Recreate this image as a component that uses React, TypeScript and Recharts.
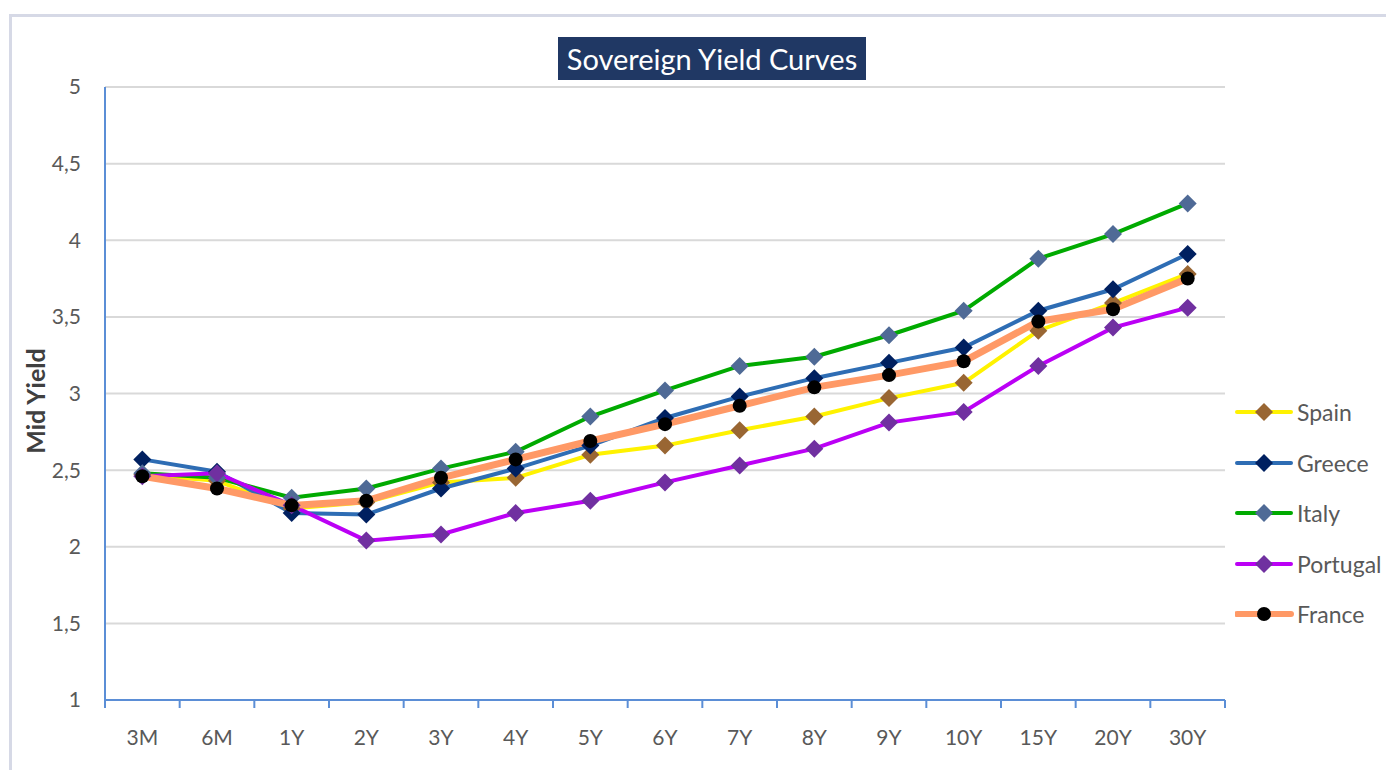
import React from "react";
import { LineChart, Line, XAxis, YAxis, CartesianGrid } from "recharts";

const tenors = ["3M", "6M", "1Y", "2Y", "3Y", "4Y", "5Y", "6Y", "7Y", "8Y", "9Y", "10Y", "15Y", "20Y", "30Y"];
const spain = [2.47, 2.43, 2.25, 2.29, 2.42, 2.45, 2.6, 2.66, 2.76, 2.85, 2.97, 3.07, 3.41, 3.59, 3.78];
const greece = [2.57, 2.49, 2.22, 2.21, 2.38, 2.51, 2.66, 2.84, 2.98, 3.1, 3.2, 3.3, 3.54, 3.68, 3.91];
const italy = [2.48, 2.45, 2.32, 2.38, 2.51, 2.62, 2.85, 3.02, 3.18, 3.24, 3.38, 3.54, 3.88, 4.04, 4.24];
const portugal = [2.46, 2.48, 2.27, 2.04, 2.08, 2.22, 2.3, 2.42, 2.53, 2.64, 2.81, 2.88, 3.18, 3.43, 3.56];
const france = [2.46, 2.38, 2.27, 2.3, 2.45, 2.57, 2.69, 2.8, 2.92, 3.04, 3.12, 3.21, 3.47, 3.55, 3.75];
const yTicks = [1, 1.5, 2, 2.5, 3, 3.5, 4, 4.5, 5];

const data = tenors.map((t, i) => ({
  tenor: t,
  Spain: spain[i],
  Greece: greece[i],
  Italy: italy[i],
  Portugal: portugal[i],
  France: france[i],
}));

const series = [
  { key: "Spain", line: "#FFF200", mark: "#996633", width: 4, shape: "diamond" },
  { key: "Greece", line: "#2E6DB4", mark: "#002060", width: 4, shape: "diamond" },
  { key: "Italy", line: "#00AA00", mark: "#4F6A96", width: 4, shape: "diamond" },
  { key: "Portugal", line: "#BB00F5", mark: "#7030A0", width: 4, shape: "diamond" },
  { key: "France", line: "#FF9966", mark: "#000000", width: 7, shape: "circle" },
];

const FONT = "Lato, 'Open Sans', sans-serif";
const AXIS = "#5B8ED6";
const TEXT = "#595959";
const BW = 1120 / 15; // band width of the category axis

const makeDot = (fill: string, shape: string) => (props: any) => {
  const { cx, cy, index } = props;
  if (cx == null || cy == null) return <g key={index} />;
  if (shape === "circle") return <circle key={index} cx={cx} cy={cy} r={7} fill={fill} />;
  const r = 9;
  return (
    <polygon
      key={index}
      points={`${cx},${cy - r} ${cx + r},${cy} ${cx},${cy + r} ${cx - r},${cy}`}
      fill={fill}
    />
  );
};

function XTick(props: any) {
  const { x, y, payload, index } = props;
  return (
    <g>
      <line x1={x - BW / 2} x2={x - BW / 2} y1={y} y2={y + 8} stroke={AXIS} strokeWidth={2} />
      {index === tenors.length - 1 && (
        <line x1={x + BW / 2} x2={x + BW / 2} y1={y} y2={y + 8} stroke={AXIS} strokeWidth={2} />
      )}
      <text x={x} y={y + 45} textAnchor="middle" fill={TEXT} fontSize={21} fontFamily={FONT}>
        {payload.value}
      </text>
    </g>
  );
}

function LegendBox() {
  return (
    <div style={{ position: "absolute", left: 1235, top: 387, fontFamily: FONT }}>
      {series.map((s) => (
        <div key={s.key} style={{ display: "flex", alignItems: "center", height: 50.5 }}>
          <svg width={60} height={22}>
            <line x1={2} x2={56} y1={11} y2={11} stroke={s.line} strokeWidth={s.width === 7 ? 6 : 4} strokeLinecap="round" />
            {s.shape === "circle" ? (
              <circle cx={29} cy={11} r={7} fill={s.mark} />
            ) : (
              <polygon points="29,2 38,11 29,20 20,11" fill={s.mark} />
            )}
          </svg>
          <span style={{ fontSize: 23, color: TEXT, marginLeft: 2, whiteSpace: "nowrap" }}>{s.key}</span>
        </div>
      ))}
    </div>
  );
}

export default function App() {
  return (
    <div
      style={{
        position: "absolute",
        left: 0,
        top: 0,
        width: 1386,
        height: 770,
        overflow: "hidden",
        background: "#fff",
      }}
    >
      <div
        style={{
          position: "absolute",
          left: 9,
          top: 14,
          width: 1500,
          height: 900,
          border: "3px solid #D6D9E6",
        }}
      />
      <LineChart
        width={1386}
        height={770}
        data={data}
        margin={{ top: 87, right: 161, bottom: 30, left: 45 }}
        style={{ position: "absolute", left: 0, top: 0 }}
      >
        <CartesianGrid vertical={false} stroke="#D9D9D9" strokeWidth={2} />
        <XAxis
          dataKey="tenor"
          padding={{ left: BW / 2, right: BW / 2 }}
          height={40}
          stroke={AXIS}
          strokeWidth={2}
          tickLine={false}
          tickSize={0}
          tickMargin={0}
          interval={0}
          tick={<XTick />}
        />
        <YAxis
          domain={[1, 5]}
          ticks={yTicks}
          width={60}
          stroke={AXIS}
          strokeWidth={2}
          tickLine={false}
          tickSize={0}
          tickMargin={24}
          tickFormatter={(v: number) => String(v).replace(".", ",")}
          tick={{ fill: TEXT, fontSize: 21, fontFamily: FONT }}
        />
        {series.map((s) => (
          <Line
            key={s.key}
            type="linear"
            dataKey={s.key}
            stroke={s.line}
            strokeWidth={s.width}
            dot={makeDot(s.mark, s.shape)}
            activeDot={false}
            isAnimationActive={false}
          />
        ))}
      </LineChart>
      <LegendBox />
      <div
        style={{
          position: "absolute",
          left: 558,
          top: 37,
          width: 308,
          height: 43,
          background: "#203864",
          color: "#fff",
          fontFamily: FONT,
          fontSize: 29,
          display: "flex",
          alignItems: "center",
          justifyContent: "center",
        }}
      >
        Sovereign Yield Curves
      </div>
      <div
        style={{
          position: "absolute",
          left: 35,
          top: 401,
          transform: "translate(-50%, -50%) rotate(-90deg)",
          fontFamily: FONT,
          fontWeight: "bold",
          fontSize: 25,
          color: "#404040",
          whiteSpace: "nowrap",
        }}
      >
        Mid Yield
      </div>
    </div>
  );
}
